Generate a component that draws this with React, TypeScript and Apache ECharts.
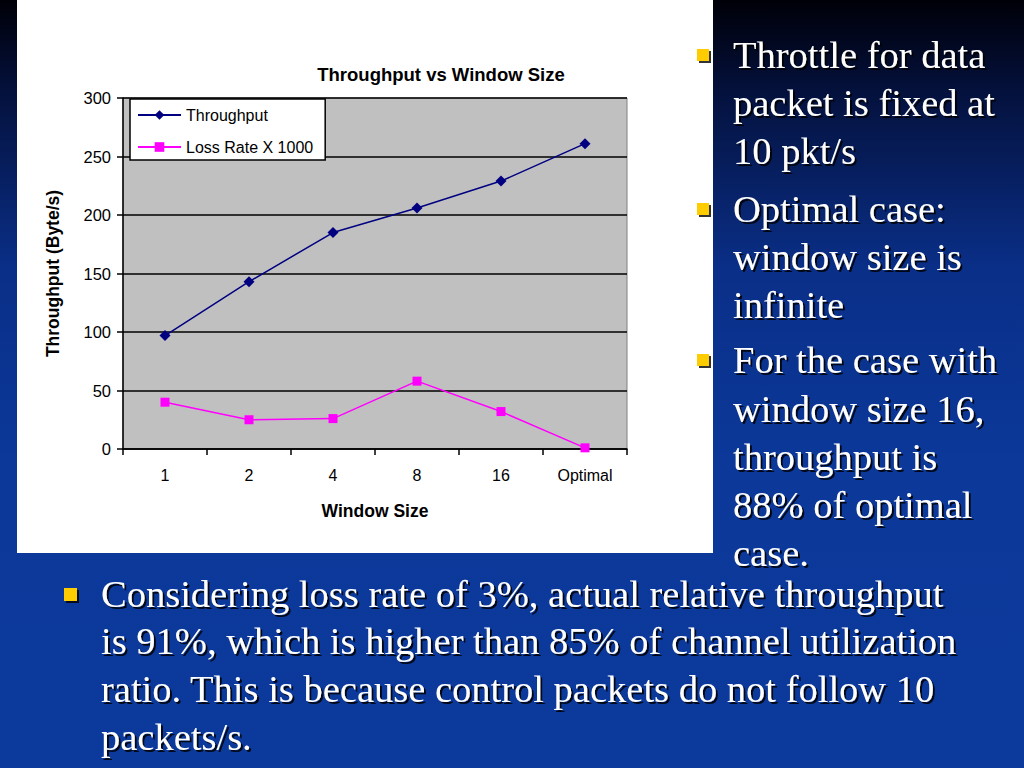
import React, { useEffect, useRef } from "react";
import * as echarts from "echarts";

const categories = ["1", "2", "4", "8", "16", "Optimal"];
const throughput = [97, 143, 185, 206, 229, 261];
const lossRateX1000 = [40, 25, 26, 58, 32, 1];
const yTicks = { min: 0, max: 300, interval: 50 };

const rightLines = [
  { t: "Throttle for data", y: 55, bullet: true },
  { t: "packet is fixed at", y: 103 },
  { t: "10 pkt/s", y: 151 },
  { t: "Optimal case:", y: 209, bullet: true },
  { t: "window size is", y: 257 },
  { t: "infinite", y: 305 },
  { t: "For the case with", y: 360, bullet: true },
  { t: "window size 16,", y: 409 },
  { t: "throughput is", y: 457 },
  { t: "88% of optimal", y: 505 },
  { t: "case.", y: 553 },
];
const bottomLines = [
  { t: "Considering loss rate of 3%, actual relative throughput", y: 594, bullet: true },
  { t: "is 91%, which is higher than 85% of channel utilization", y: 641 },
  { t: "ratio. This is because control packets do not follow 10", y: 689 },
  { t: "packets/s.", y: 737 },
];

const SERIF = "Liberation Serif";
const SANS = "Liberation Sans";

function textEl(t: string, x: number, y: number) {
  return {
    type: "text",
    x,
    y,
    z: 10,
    style: {
      text: t,
      font: `38.5px "${SERIF}"`,
      fill: "#ffffff",
      align: "left",
      verticalAlign: "middle",
      textShadowColor: "rgba(0,0,0,0.85)",
      textShadowOffsetX: 2,
      textShadowOffsetY: 2,
      textShadowBlur: 1,
    },
  };
}

function bulletEl(x: number, y: number, s: number) {
  return {
    type: "rect",
    z: 10,
    shape: { x, y, width: s, height: s },
    style: {
      fill: "#ffcc00",
      shadowColor: "rgba(0,0,0,0.8)",
      shadowOffsetX: 2,
      shadowOffsetY: 2,
      shadowBlur: 1,
    },
  };
}

export default function App() {
  const ref = useRef<HTMLDivElement>(null);
  useEffect(() => {
    if (!ref.current) return;
    const chart = echarts.init(ref.current, undefined, { renderer: "svg" });
    const graphics: any[] = [
      {
        type: "rect",
        z: -10,
        silent: true,
        shape: { x: 0, y: 0, width: 1024, height: 768 },
        style: {
          fill: new echarts.graphic.LinearGradient(0, 0, 0, 1, [
            { offset: 0, color: "#000008" },
            { offset: 0.12, color: "#04113d" },
            { offset: 0.35, color: "#0a2f88" },
            { offset: 0.6, color: "#0b3899" },
            { offset: 1, color: "#0c3a9c" },
          ]),
        },
      },
      {
        type: "rect",
        z: -9,
        silent: true,
        shape: { x: 17, y: 0, width: 696, height: 553 },
        style: { fill: "#ffffff" },
      },
    ];
    rightLines.forEach((l) => {
      graphics.push(textEl(l.t, 733, l.y));
      if (l.bullet) graphics.push(bulletEl(697, l.y - 6, 12));
    });
    bottomLines.forEach((l) => {
      graphics.push(textEl(l.t, 101, l.y));
      if (l.bullet) graphics.push(bulletEl(64, l.y - 6, 13));
    });

    chart.setOption({
      animation: false,
      graphic: graphics,
      title: {
        text: "Throughput vs Window Size",
        left: 441,
        top: 65,
        textAlign: "center",
        padding: 0,
        textStyle: { fontFamily: SANS, fontSize: 18.5, fontWeight: "bold", color: "#000" },
      },
      legend: {
        orient: "vertical",
        left: 130,
        top: 99,
        padding: [8, 12, 5, 7],
        itemWidth: 43,
        itemHeight: 12,
        itemGap: 16,
        backgroundColor: "#ffffff",
        borderColor: "#000000",
        borderWidth: 1.5,
        borderRadius: 0,
        textStyle: { fontFamily: SANS, fontSize: 16, color: "#000" },
        data: ["Throughput", "Loss Rate X 1000"],
      },
      grid: {
        left: 123,
        top: 98,
        width: 504,
        height: 351,
        show: true,
        backgroundColor: "#c0c0c0",
        borderColor: "#808080",
        borderWidth: 1,
      },
      xAxis: {
        type: "category",
        data: categories,
        boundaryGap: true,
        name: "Window Size",
        nameLocation: "middle",
        nameGap: 53,
        nameTextStyle: { fontFamily: SANS, fontSize: 17.5, fontWeight: "bold", color: "#000" },
        axisLine: { lineStyle: { color: "#000", width: 1.5 } },
        axisTick: { show: true, length: 6, lineStyle: { color: "#000", width: 1.5 } },
        axisLabel: { fontFamily: SANS, fontSize: 16, color: "#000", margin: 18 },
      },
      yAxis: {
        type: "value",
        min: yTicks.min,
        max: yTicks.max,
        interval: yTicks.interval,
        name: "Throughput (Byte/s)",
        nameLocation: "middle",
        nameGap: 61,
        nameTextStyle: { fontFamily: SANS, fontSize: 17.5, fontWeight: "bold", color: "#000" },
        axisLine: { show: true, lineStyle: { color: "#000", width: 1.5 } },
        axisTick: { show: true, length: 6, lineStyle: { color: "#000", width: 1.5 } },
        axisLabel: { fontFamily: SANS, fontSize: 16.5, color: "#000", margin: 12 },
        splitLine: { show: true, lineStyle: { color: "#000", width: 1.5 } },
      },
      series: [
        {
          name: "Throughput",
          type: "line",
          data: throughput,
          symbol: "diamond",
          symbolSize: 11,
          lineStyle: { color: "#000080", width: 1.5 },
          itemStyle: { color: "#000080" },
        },
        {
          name: "Loss Rate X 1000",
          type: "line",
          data: lossRateX1000,
          symbol: "rect",
          symbolSize: 9,
          lineStyle: { color: "#ff00ff", width: 1.5 },
          itemStyle: { color: "#ff00ff" },
        },
      ],
    });
    return () => chart.dispose();
  }, []);
  return (
    <div
      ref={ref}
      style={{ position: "absolute", left: 0, top: 0, width: 1024, height: 768 }}
    />
  );
}
